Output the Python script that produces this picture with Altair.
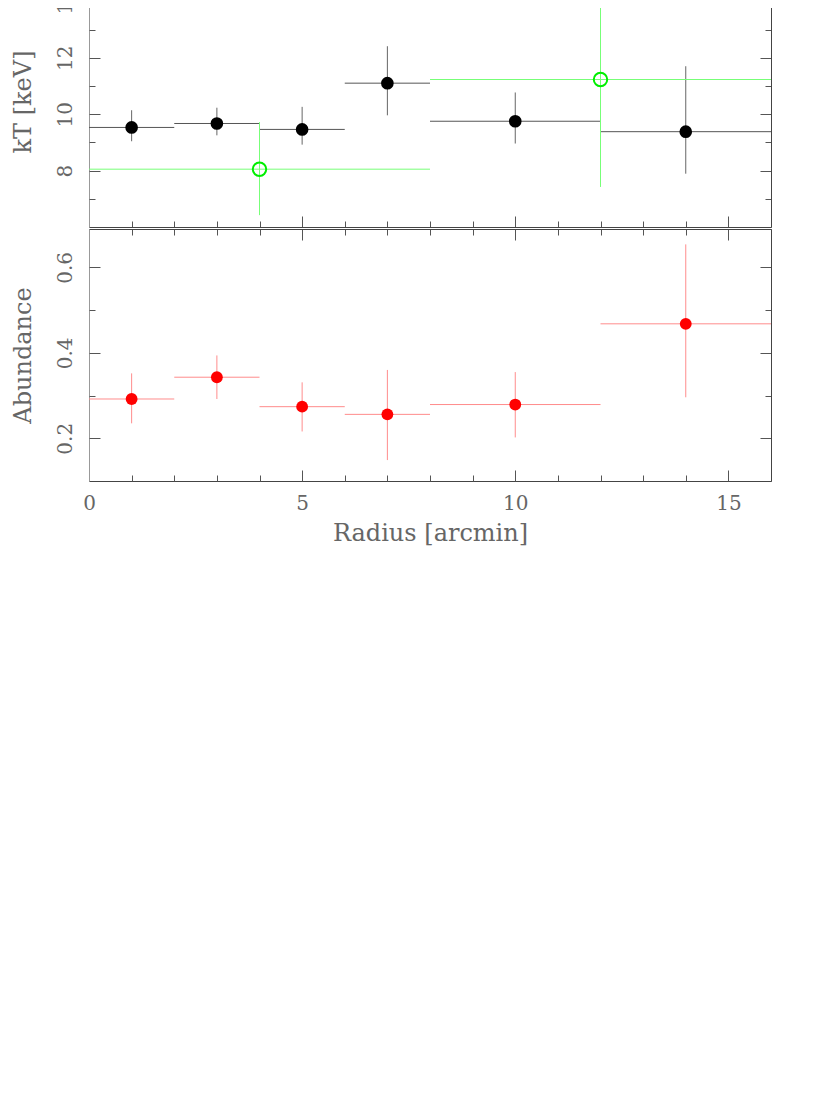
import altair as alt
import pandas as pd

# ---- data ----
r_center = [1, 3, 5, 7, 10, 14]
r_lo = [0, 2, 4, 6, 8, 12]
r_hi = [2, 4, 6, 8, 12, 16]

kt = [9.53, 9.67, 9.46, 11.10, 9.75, 9.38]
kt_lo = [9.04, 9.25, 8.92, 9.96, 8.96, 7.89]
kt_hi = [10.14, 10.23, 10.26, 12.41, 10.77, 11.70]

g_center = [4, 12]
g_lo = [0, 8]
g_hi = [8, 16]
g_kt = [8.05, 11.23]
g_kt_lo = [6.42, 7.42]
g_kt_hi = [9.72, 15.5]

abund = [0.292, 0.343, 0.274, 0.256, 0.279, 0.468]
ab_lo = [0.235, 0.292, 0.216, 0.149, 0.202, 0.296]
ab_hi = [0.352, 0.394, 0.331, 0.360, 0.355, 0.654]

x_ticks = list(range(0, 17))
x_labels = [0, 5, 10, 15]
kt_ticks = [7, 8, 9, 10, 11, 12, 13, 14]
kt_labels = [8, 10, 12, 14]
ab_ticks = [0.2, 0.3, 0.4, 0.5, 0.6]
ab_labels = [0.2, 0.4, 0.6]

# ---- styling ----
W = 682
H_TOP = 251
H_BOT = 252
FONT = "DejaVu Serif"
TXT = "#666666"
DARK = "#444444"
LIGHT = "#999999"

xs = alt.Scale(domain=[0, 16], nice=False, zero=False)
ys_top = alt.Scale(domain=[6, 14.9], nice=False, zero=False)
ys_bot = alt.Scale(domain=[0.1, 0.69], nice=False, zero=False)

df_kt = pd.DataFrame(dict(r=r_center, lo=r_lo, hi=r_hi, v=kt, vlo=kt_lo, vhi=kt_hi))
df_g = pd.DataFrame(dict(r=g_center, lo=g_lo, hi=g_hi, v=g_kt, vlo=g_kt_lo, vhi=g_kt_hi))
df_ab = pd.DataFrame(dict(r=r_center, lo=r_lo, hi=r_hi, v=abund, vlo=ab_lo, vhi=ab_hi))


def errbars(df, ys, hcolor, vcolor):
    h = alt.Chart(df).mark_rule(color=hcolor, strokeWidth=1, clip=True).encode(
        x=alt.X("lo:Q", scale=xs, axis=None), x2="hi:Q",
        y=alt.Y("v:Q", scale=ys, axis=None))
    v = alt.Chart(df).mark_rule(color=vcolor, strokeWidth=1, clip=True).encode(
        x=alt.X("r:Q", scale=xs, axis=None),
        y=alt.Y("vlo:Q", scale=ys, axis=None), y2="vhi:Q")
    return [h, v]


def x_axis_layer(df, ys, axis):
    return alt.Chart(df).mark_point(opacity=0).encode(
        x=alt.X("r:Q", scale=xs, axis=axis), y=alt.Y("v:Q", scale=ys, axis=None))


def y_axis_layer(df, ys, axis):
    return alt.Chart(df).mark_point(opacity=0).encode(
        x=alt.X("r:Q", scale=xs, axis=None), y=alt.Y("v:Q", scale=ys, axis=axis))


def tick_axis(orient, offset, values, test, major=11, minor=6, domain=False, dcolor=DARK):
    return alt.Axis(
        orient=orient, offset=offset, values=values, labels=False, title=None,
        grid=False, domain=domain, domainColor=dcolor, domainWidth=1,
        tickColor="#555555", tickWidth=1,
        tickSize={"condition": {"test": test, "value": major}, "value": minor},
    )


x_test = "datum.value % 5 === 0"

# ---- top panel (kT) ----
top_layers = []
top_layers += errbars(df_kt, ys_top, "#555555", "#666666")
top_layers += errbars(df_g, ys_top, "#77ff77", "#77ff77")
top_layers.append(alt.Chart(df_kt).mark_circle(color="black", size=160, opacity=1).encode(
    x=alt.X("r:Q", scale=xs, axis=None), y=alt.Y("v:Q", scale=ys_top, axis=None)))
top_layers.append(alt.Chart(df_g).mark_point(color="#00ee00", size=180, strokeWidth=2,
                                             filled=False, opacity=1).encode(
    x=alt.X("r:Q", scale=xs, axis=None), y=alt.Y("v:Q", scale=ys_top, axis=None)))

top_layers.append(y_axis_layer(df_kt, ys_top, alt.Axis(
    orient="left", values=kt_labels, ticks=False, grid=False, domain=True,
    domainColor=LIGHT, labelAngle=270, labelAlign="center", labelBaseline="bottom",
    labelPadding=14, labelFont=FONT, labelFontSize=20, labelColor=TXT,
    title="kT [keV]", titleFont=FONT, titleFontSize=24, titleColor=TXT,
    titleFontWeight="normal", titlePadding=20)))
top_layers.append(y_axis_layer(df_kt, ys_top, tick_axis(
    "right", -W, kt_ticks, "datum.value % 2 === 0")))
top_layers.append(y_axis_layer(df_kt, ys_top, tick_axis(
    "left", -W, kt_ticks, "datum.value % 2 === 0", domain=True)))
top_layers.append(x_axis_layer(df_kt, ys_top, tick_axis(
    "top", -H_TOP, x_ticks, x_test, domain=True)))

top = alt.layer(*top_layers).resolve_axis(x="independent", y="independent").properties(
    width=W, height=H_TOP)

# ---- bottom panel (abundance) ----
ab_test = "round(datum.value * 10) % 2 === 0"
bot_layers = []
bot_layers += errbars(df_ab, ys_bot, "#ff8c8c", "#ff8c8c")
bot_layers.append(alt.Chart(df_ab).mark_circle(color="#ff0000", size=140, opacity=1).encode(
    x=alt.X("r:Q", scale=xs, axis=None), y=alt.Y("v:Q", scale=ys_bot, axis=None)))

bot_layers.append(y_axis_layer(df_ab, ys_bot, alt.Axis(
    orient="left", values=ab_labels, format=".1f", ticks=False, grid=False, domain=True,
    domainColor=LIGHT, labelAngle=270, labelAlign="center", labelBaseline="bottom",
    labelPadding=14, labelFont=FONT, labelFontSize=20, labelColor=TXT,
    title="Abundance", titleFont=FONT, titleFontSize=24, titleColor=TXT,
    titleFontWeight="normal", titlePadding=20)))
bot_layers.append(y_axis_layer(df_ab, ys_bot, tick_axis(
    "right", -W, ab_ticks, ab_test)))
bot_layers.append(y_axis_layer(df_ab, ys_bot, tick_axis(
    "left", -W, ab_ticks, ab_test, domain=True)))
bot_layers.append(x_axis_layer(df_ab, ys_bot, alt.Axis(
    orient="bottom", values=x_labels, ticks=False, grid=False, domain=True,
    domainColor=DARK, labelAngle=0, labelPadding=12, labelFont=FONT,
    labelFontSize=20, labelColor=TXT, labelFlush=False,
    title="Radius [arcmin]", titleFont=FONT, titleFontSize=24, titleColor=TXT,
    titleFontWeight="normal", titlePadding=8)))
bot_layers.append(x_axis_layer(df_ab, ys_bot, tick_axis(
    "top", -H_BOT, x_ticks, x_test)))
bot_layers.append(x_axis_layer(df_ab, ys_bot, tick_axis(
    "bottom", -H_BOT, x_ticks, x_test, domain=True)))

bot = alt.layer(*bot_layers).resolve_axis(x="independent", y="independent").properties(
    width=W, height=H_BOT)

chart = alt.vconcat(top, bot, spacing=0).properties(
    padding={"left": 2, "top": -32, "right": 10, "bottom": 10},
    background="white",
).configure_view(stroke=None)

chart.save("out.html", embed_options={"renderer": "svg", "actions": False})
